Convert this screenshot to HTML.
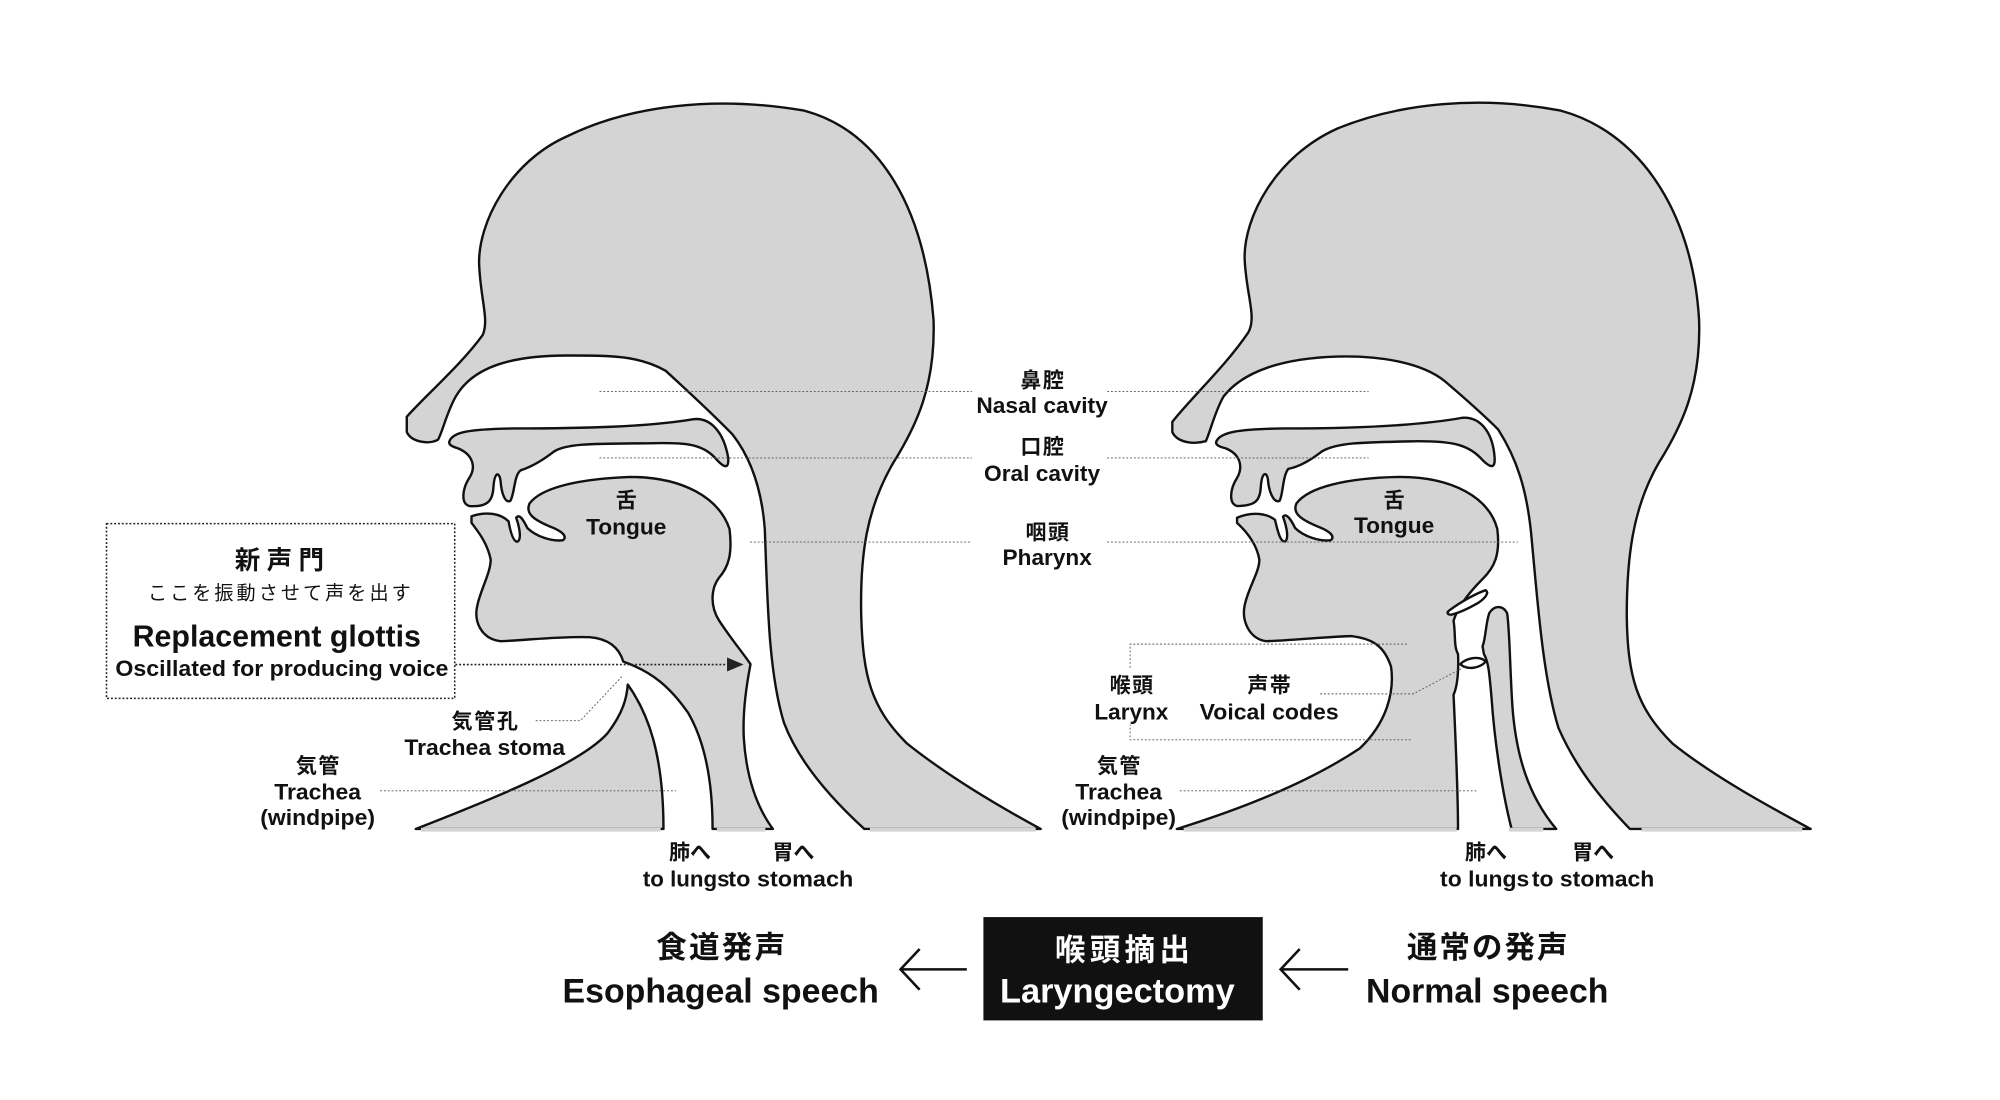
<!DOCTYPE html>
<html><head><meta charset="utf-8"><style>
html,body{margin:0;padding:0;background:#fff;}
svg{display:block;}
text{font-family:"Liberation Sans","Noto Sans CJK JP",sans-serif;fill:#111;text-anchor:middle;}
.b{font-weight:bold;}
</style></head><body>
<svg width="2000" height="1100" viewBox="0 0 1568 862.4" xmlns="http://www.w3.org/2000/svg">
<g fill="#d4d4d4" stroke="#111" stroke-width="2.4" stroke-linejoin="round">
<!-- LEFT HEAD -->
<g transform="scale(0.784) translate(380,80) scale(0.4464,0.5102)">
<path vector-effect="non-scaling-stroke" d="M60,660 C100,620 180,560 230,500 C245,470 225,430 222,360 C220,280 290,160 420,110 C560,50 750,30 950,60 C1120,100 1220,250 1240,470 C1245,600 1200,680 1150,750 C1090,840 1075,930 1078,1050 C1082,1170 1100,1230 1180,1300 C1280,1370 1400,1430 1480,1468 L1085,1468 C1000,1400 935,1330 905,1260 C870,1160 868,1020 862,880 C855,800 830,740 790,695 C740,650 690,610 640,570 C580,540 520,540 420,540 C300,540 210,560 170,620 C150,650 140,690 130,705 C110,715 70,710 60,690 Z"/>
<path vector-effect="non-scaling-stroke" d="M155,710 C160,690 200,684 300,683 C450,683 600,680 700,665 C740,660 770,690 780,740 C782,765 770,760 750,740 C720,712 680,710 600,712 C480,713 420,712 390,728 C365,745 340,758 315,765 C300,775 302,810 292,825 C280,830 272,810 270,785 C266,765 256,770 254,800 C252,825 240,838 200,835 C180,830 185,800 200,780 C215,760 210,735 175,722 C160,718 155,715 155,710 Z"/>
<path vector-effect="non-scaling-stroke" d="M205,855 C240,845 270,850 288,865 C292,885 298,905 308,905 C318,900 312,875 305,858 C312,850 320,860 330,878 C350,895 385,905 410,902 C420,895 410,885 380,875 C345,862 325,850 335,830 C360,800 440,782 560,778 C680,778 760,820 783,880 C790,930 780,955 760,975 C742,995 738,1030 760,1060 C790,1100 815,1125 830,1145 C820,1190 812,1240 815,1290 C820,1360 840,1420 880,1468 L745,1468 C745,1380 730,1300 690,1240 C650,1190 610,1160 545,1140 C535,1110 510,1095 470,1092 C400,1090 330,1098 270,1100 C225,1095 210,1060 218,1030 C225,1000 248,965 248,940 C240,905 215,880 205,868 Z"/>
<path vector-effect="non-scaling-stroke" d="M80,1468 C250,1410 450,1340 510,1280 C545,1240 553,1210 555,1185 C600,1240 635,1320 635,1468 Z"/>
</g>
<!-- RIGHT HEAD -->
<g transform="scale(0.784) translate(1150,80) scale(0.4464,0.5102)">
<path vector-effect="non-scaling-stroke" d="M50,670 C90,625 170,560 220,495 C240,465 215,420 212,350 C210,270 280,150 420,95 C560,45 740,30 920,60 C1090,100 1215,250 1230,470 C1235,600 1190,680 1140,750 C1080,840 1068,940 1068,1050 C1070,1170 1090,1230 1170,1300 C1270,1370 1400,1430 1480,1468 L1075,1468 C1000,1400 950,1340 915,1270 C880,1170 868,1020 855,900 C845,800 820,740 780,685 C740,650 700,620 660,590 C610,555 520,540 420,542 C300,545 210,570 165,620 C145,650 135,690 125,708 C95,715 60,710 50,690 Z"/>
<path vector-effect="non-scaling-stroke" d="M148,710 C155,690 200,684 300,683 C450,683 600,678 700,662 C740,660 768,690 772,740 C774,765 760,758 745,745 C715,715 680,708 600,708 C480,710 420,710 385,728 C360,745 335,758 310,762 C297,775 298,815 290,825 C276,830 266,805 264,782 C260,765 250,770 248,800 C246,825 235,835 195,835 C175,830 180,800 195,780 C208,760 205,735 170,722 C152,718 148,715 148,710 Z"/>
<path vector-effect="non-scaling-stroke" d="M195,858 C230,845 262,850 280,862 C286,885 292,905 302,905 C312,900 306,875 298,856 C305,848 315,860 325,878 C345,895 380,905 405,902 C415,895 405,885 375,875 C340,862 318,850 328,830 C355,798 440,780 560,778 C680,778 760,820 778,880 C785,930 772,955 745,978 C720,1000 690,1030 680,1060 C685,1085 680,1110 690,1125 C692,1160 688,1190 680,1205 C685,1300 690,1400 690,1468 L60,1468 C200,1430 350,1380 470,1310 C530,1260 548,1200 540,1150 C525,1110 500,1095 450,1090 C380,1092 320,1098 260,1100 C222,1095 205,1060 212,1030 C220,995 245,965 245,940 C238,905 210,880 195,868 Z"/>
<path vector-effect="non-scaling-stroke" fill="#fff" d="M670,1040 C700,1020 735,1005 752,1000 C760,1005 752,1015 735,1025 C715,1035 690,1045 675,1048 C665,1048 665,1043 670,1040 Z"/>
<path vector-effect="non-scaling-stroke" d="M745,1110 C752,1095 752,1065 760,1045 C770,1030 790,1028 800,1045 C806,1080 806,1150 812,1230 C820,1320 845,1400 910,1468 L810,1468 C790,1400 772,1300 765,1210 C760,1160 758,1140 748,1125 Z"/>
<path vector-effect="non-scaling-stroke" fill="#fff" d="M695,1145 C710,1132 740,1128 752,1140 C740,1152 712,1158 695,1145 Z"/>
</g>
</g>
<g stroke="#d4d4d4" stroke-width="3">
<line x1="330" y1="650.5" x2="518" y2="650.5"/><line x1="562" y1="650.5" x2="600" y2="650.5"/><line x1="682" y1="650.5" x2="812" y2="650.5"/>
<line x1="928" y1="650.5" x2="1142" y2="650.5"/><line x1="1183" y1="650.5" x2="1210" y2="650.5"/><line x1="1287" y1="650.5" x2="1413" y2="650.5"/>
</g>
<g stroke="#555" stroke-width="0.7" stroke-dasharray="1.5 1.5" fill="none">
<line x1="470" y1="307" x2="762" y2="307"/><line x1="868" y1="307" x2="1073" y2="307"/>
<line x1="470" y1="359" x2="762" y2="359"/><line x1="868" y1="359" x2="1073" y2="359"/>
<line x1="588" y1="425" x2="762" y2="425"/><line x1="868" y1="425" x2="1190" y2="425"/>
<line x1="298" y1="620" x2="530" y2="620"/>
<polyline points="420,565 455,565 488,530"/>
<polyline points="1103,505 886,505 886,525"/><polyline points="1106,580 886,580 886,568"/>
<polyline points="1035,544 1108,544 1150,522"/>
<line x1="925" y1="620" x2="1158" y2="620"/>
<rect x="83.5" y="410.5" width="273" height="137" stroke="#222" stroke-width="1.2"/>
<line x1="357" y1="521" x2="572" y2="521" stroke="#222" stroke-width="1.3"/>
</g>
<path d="M570,515.5 L583,521 L570,526.5 Z" fill="#222"/>
<g font-size="17.5" class="b" font-weight="bold">
<text x="817" y="304" font-size="16.5" textLength="34">鼻腔</text><text x="817" y="324" textLength="103" lengthAdjust="spacingAndGlyphs">Nasal cavity</text>
<text x="817" y="356" font-size="16.5" textLength="34">口腔</text><text x="817" y="377" textLength="91" lengthAdjust="spacingAndGlyphs">Oral cavity</text>
<text x="821" y="423" font-size="16.5" textLength="34">咽頭</text><text x="821" y="443" textLength="70" lengthAdjust="spacingAndGlyphs">Pharynx</text>
<text x="491" y="398" font-size="16.5">舌</text><text x="491" y="419" textLength="63" lengthAdjust="spacingAndGlyphs">Tongue</text>
<text x="1093" y="398" font-size="16.5">舌</text><text x="1093" y="418" textLength="63" lengthAdjust="spacingAndGlyphs">Tongue</text>
<text x="219" y="446" font-size="20" textLength="70">新声門</text>
<text x="219" y="470" font-size="15" font-weight="normal" textLength="206">ここを振動させて声を出す</text>
<text x="217" y="507" font-size="24" textLength="226" lengthAdjust="spacingAndGlyphs">Replacement glottis</text>
<text x="221" y="530" textLength="261" lengthAdjust="spacingAndGlyphs">Oscillated for producing voice</text>
<text x="380" y="571" font-size="16.5" textLength="52">気管孔</text><text x="380" y="592" textLength="126" lengthAdjust="spacingAndGlyphs">Trachea stoma</text>
<text x="249" y="606" font-size="16.5" textLength="34">気管</text><text x="249" y="627" textLength="68" lengthAdjust="spacingAndGlyphs">Trachea</text><text x="249" y="647" textLength="90" lengthAdjust="spacingAndGlyphs">(windpipe)</text>
<text x="541" y="674" font-size="16.5">肺へ</text><text x="538" y="695" textLength="68" lengthAdjust="spacingAndGlyphs">to lungs</text>
<text x="622" y="674" font-size="16.5">胃へ</text><text x="620" y="695" textLength="98" lengthAdjust="spacingAndGlyphs">to stomach</text>
<text x="1165" y="674" font-size="16.5">肺へ</text><text x="1164" y="695" textLength="70" lengthAdjust="spacingAndGlyphs">to lungs</text>
<text x="1249" y="674" font-size="16.5">胃へ</text><text x="1249" y="695" textLength="96" lengthAdjust="spacingAndGlyphs">to stomach</text>
<text x="887" y="543" font-size="16.5" textLength="34">喉頭</text><text x="887" y="564" textLength="58" lengthAdjust="spacingAndGlyphs">Larynx</text>
<text x="995" y="543" font-size="16.5" textLength="34">声帯</text><text x="995" y="564" textLength="109" lengthAdjust="spacingAndGlyphs">Voical codes</text>
<text x="877" y="606" font-size="16.5" textLength="34">気管</text><text x="877" y="627" textLength="68" lengthAdjust="spacingAndGlyphs">Trachea</text><text x="877" y="647" textLength="90" lengthAdjust="spacingAndGlyphs">(windpipe)</text>
</g>
<rect x="771" y="719" width="219" height="81" fill="#111"/>
<g font-weight="bold">
<text x="565" y="751" font-size="24" textLength="101">食道発声</text><text x="565" y="786" font-size="26.5" textLength="248" lengthAdjust="spacingAndGlyphs">Esophageal speech</text>
<text x="880" y="753" font-size="24" textLength="106" style="fill:#fff">喉頭摘出</text><text x="876" y="786" font-size="27" textLength="184" lengthAdjust="spacingAndGlyphs" style="fill:#fff">Laryngectomy</text>
<text x="1166" y="751" font-size="24" textLength="126">通常の発声</text><text x="1166" y="786" font-size="26.5" textLength="190" lengthAdjust="spacingAndGlyphs">Normal speech</text>
</g>
<g stroke="#111" stroke-width="2" fill="none">
<line x1="758" y1="760" x2="706" y2="760"/><polyline points="721,744 706,760 721,776"/>
<line x1="1057" y1="760" x2="1004" y2="760"/><polyline points="1019,744 1004,760 1019,776"/>
</g>
</svg>
</body></html>
